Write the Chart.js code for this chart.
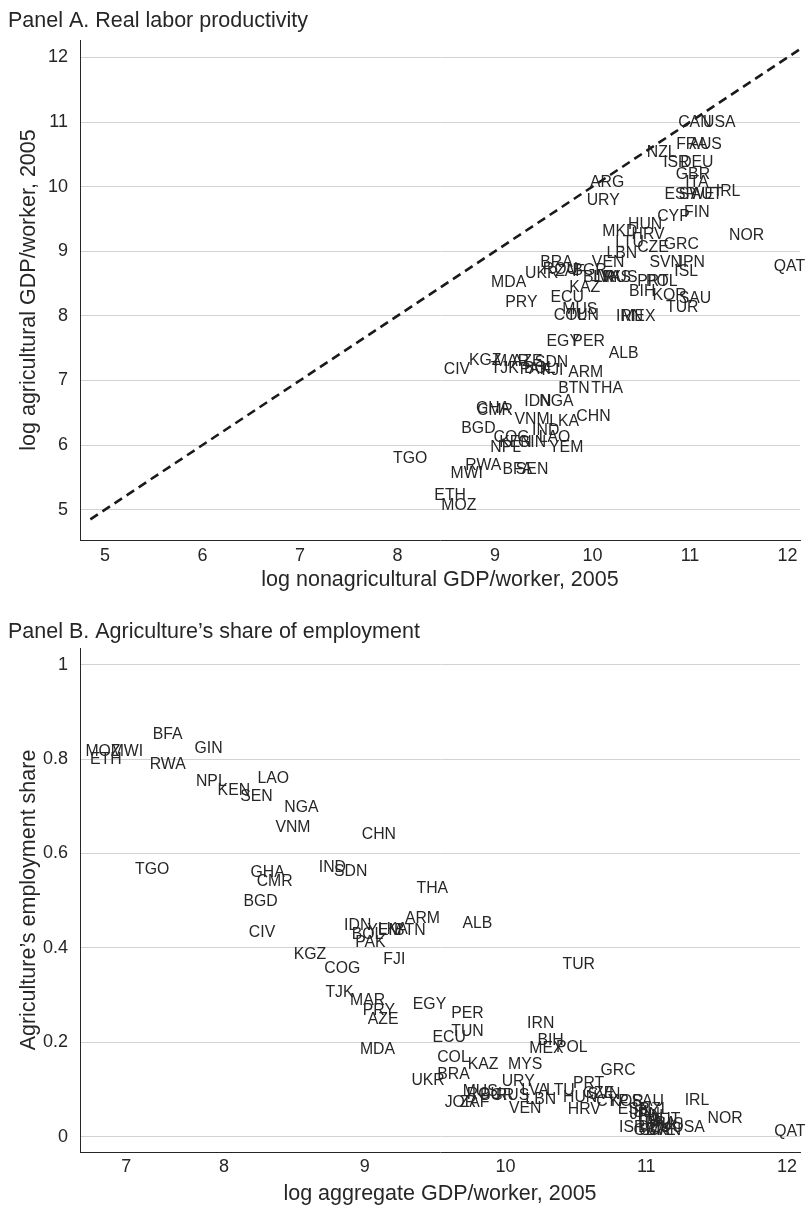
<!DOCTYPE html>
<html>
<head>
<meta charset="utf-8">
<script src="https://cdn.jsdelivr.net/npm/chart.js@4.4.0/dist/chart.umd.min.js"></script>
<style>
  html, body { margin: 0; padding: 0; background: #ffffff; }
  .panel { position: absolute; left: 0; width: 807px; }
  #wrapA { top: 0; height: 600px; }
  #wrapB { top: 600px; height: 607px; }
</style>
</head>
<body>
<div id="wrapA" class="panel"><canvas id="panelA"></canvas></div>
<div id="wrapB" class="panel"><canvas id="panelB"></canvas></div>
<script>
// ---- Panel A: log GDP per worker by sector, 2005 ----
const codesA = ['CAN','USA','FRA','AUS','NZL','ISR','DEU','GBR','ITA','ESP','SWE','AUT','IRL','FIN','CYP',
  'ARG','URY','HUN','MKD','HRV','LTU','CZE','GRC','NOR','LBN','VEN','SVN','JPN','ISL','QAT',
  'BRA','UKR','ROU','ZAF','BGR','BLR','LVA','MYS','RUS','PRT','POL','KAZ','MDA','BIH','KOR','SAU','TUR',
  'PRY','ECU','MUS','COL','TUN','IRN','MEX','EGY','PER','ALB','CIV','KGZ','TJK','MAR','AZE','SDN',
  'PAK','BOL','FJI','ARM','BTN','THA','IDN','NGA','GHA','CMR','VNM','LKA','CHN','BGD','IND','COG',
  'LAO','NPL','KEN','GIN','YEM','RWA','MWI','BFA','SEN','ETH','MOZ','TGO'];
const nonagA = [11.05,11.30,11.02,11.16,10.71,10.86,11.07,11.03,11.07,10.90,11.07,11.17,11.39,11.07,10.83,
  10.15,10.11,10.54,10.28,10.57,10.38,10.62,10.91,11.58,10.30,10.16,10.75,11.00,10.96,12.02,
  9.63,9.48,9.67,9.77,9.97,10.06,10.15,10.22,10.29,10.62,10.71,9.92,9.14,10.51,10.79,11.05,10.92,
  9.27,9.74,9.87,9.77,9.90,10.38,10.47,9.70,9.96,10.32,8.61,8.90,9.10,9.17,9.33,9.58,
  9.41,9.46,9.59,9.93,9.81,10.15,9.44,9.63,8.98,9.00,9.38,9.71,10.01,8.83,9.52,9.17,
  9.61,9.11,9.21,9.38,9.73,8.88,8.71,9.23,9.38,8.54,8.63,8.13];
const agA = [10.99,10.99,10.65,10.65,10.52,10.37,10.37,10.18,10.06,9.87,9.87,9.87,9.92,9.59,9.53,
  10.06,9.78,9.41,9.31,9.26,9.14,9.05,9.10,9.24,8.97,8.83,8.82,8.82,8.68,8.76,
  8.82,8.66,8.71,8.68,8.70,8.59,8.59,8.59,8.59,8.53,8.53,8.43,8.51,8.37,8.31,8.26,8.12,
  8.20,8.28,8.09,8.01,8.01,7.98,7.98,7.60,7.60,7.41,7.16,7.30,7.19,7.29,7.29,7.27,
  7.16,7.18,7.15,7.12,6.88,6.87,6.67,6.67,6.57,6.54,6.39,6.36,6.44,6.26,6.22,6.11,
  6.11,5.96,6.04,6.04,5.96,5.68,5.56,5.62,5.62,5.21,5.06,5.79];
const ticksA = [5, 6, 7, 8, 9, 10, 11, 12];
// ends of the 45-degree reference line
const diagonalA = [4.85, 12.15];

// ---- Panel B: agriculture's share of employment ----
const codesB = ['MOZ','ETH','MWI','BFA','GIN','RWA','NPL','KEN','SEN','LAO','NGA','VNM','CHN','TGO',
  'GHA','CMR','BGD','IND','SDN','THA','ARM','ALB','IDN','BOL','PAK','YEM','LKA','BTN','CIV','KGZ',
  'FJI','COG','TUR','TJK','MAR','PRY','AZE','EGY','PER','TUN','ECU','IRN','MDA','BIH','MEX','POL',
  'MYS','GRC','COL','KAZ','UKR','BRA','URY','PRT','MUS','JOR','ZAF','ROU','BGR','RUS','LVA','LTU',
  'LBN','VEN','HUN','SVN','CZE','HRV','CYP','KOR','SAU','ESP','IRL','NOR','USA','ISR','QAT',
  'FIN','NZL','ITA','DEU','GBR','FRA','SWE','AUT','AUS','CAN','JPN','ISL'];
const aggB = [7.14,7.16,7.31,7.60,7.89,7.60,7.91,8.07,8.23,8.35,8.55,8.49,9.10,7.49,
  8.31,8.36,8.26,8.77,8.90,9.48,9.41,9.80,8.95,9.02,9.04,9.14,9.20,9.32,8.27,8.61,
  9.21,8.84,10.52,8.82,9.02,9.10,9.13,9.46,9.73,9.73,9.60,10.25,9.09,10.32,10.29,10.47,
  10.14,10.80,9.63,9.84,9.45,9.63,10.09,10.59,9.82,9.68,9.78,9.85,9.94,10.05,10.21,10.39,
  10.25,10.14,10.53,10.70,10.66,10.56,10.76,10.86,11.01,10.91,11.36,11.56,11.30,10.90,12.02,
  11.03,11.06,11.03,11.06,11.03,11.10,11.08,11.13,11.15,11.13,10.99,10.96];
const shareB = [0.815,0.798,0.815,0.851,0.821,0.787,0.751,0.732,0.720,0.758,0.698,0.654,0.639,0.565,
  0.559,0.540,0.499,0.569,0.561,0.525,0.461,0.451,0.447,0.428,0.411,0.436,0.438,0.436,0.432,0.385,
  0.375,0.356,0.364,0.305,0.288,0.267,0.248,0.281,0.260,0.222,0.210,0.239,0.184,0.203,0.186,0.188,
  0.152,0.140,0.167,0.152,0.119,0.131,0.116,0.112,0.095,0.072,0.072,0.089,0.087,0.087,0.097,0.097,
  0.078,0.059,0.083,0.089,0.091,0.057,0.074,0.074,0.074,0.057,0.076,0.038,0.019,0.019,0.011,
  0.042,0.057,0.032,0.019,0.013,0.028,0.013,0.036,0.025,0.013,0.047,0.051];
const xTicksB = [7, 8, 9, 10, 11, 12];
const yTicksB = [0, 0.2, 0.4, 0.6, 0.8, 1];
// horizontal nudge (px) of each bottom tick label; the first one sits clear of the axis corner
const xTickNudgeB = [43, 0, 0, 0, 0, 0];

const FONT = "'Liberation Sans', Arial, Helvetica, sans-serif";
const INK = '#262626';
const GRID = '#d2d2d2';
const TICK_SIZE = 18;
const TITLE_SIZE = 21.5;
const CODE_SIZE = 15.8;

// draws each country code centred on its data point
const codeLabels = {
  id: 'codeLabels',
  afterDatasetsDraw(chart) {
    const ctx = chart.ctx;
    const area = chart.chartArea;
    chart.data.datasets.forEach((ds, i) => {
      if (!ds.codes) return;
      const meta = chart.getDatasetMeta(i);
      ctx.save();
      ctx.beginPath();
      ctx.rect(area.left, area.top - 20, area.right - area.left + 10, area.bottom - area.top + 20);
      ctx.clip();
      ctx.font = CODE_SIZE + 'px ' + FONT;
      ctx.fillStyle = INK;
      ctx.textAlign = 'center';
      ctx.textBaseline = 'middle';
      meta.data.forEach((pt, j) => ctx.fillText(ds.codes[j], pt.x, pt.y));
      ctx.restore();
    });
  }
};

// bottom tick labels of panel B, placed from the x scale with a per-label nudge
const nudgedXTicks = {
  id: 'nudgedXTicks',
  afterDraw(chart) {
    const scale = chart.scales.x;
    const ctx = chart.ctx;
    ctx.save();
    ctx.font = TICK_SIZE + 'px ' + FONT;
    ctx.fillStyle = INK;
    ctx.textAlign = 'center';
    ctx.textBaseline = 'middle';
    xTicksB.forEach((v, i) => {
      ctx.fillText(String(v), scale.getPixelForValue(v) + xTickNudgeB[i], scale.top + 15);
    });
    ctx.restore();
  }
};

function points(xs, ys) { return xs.map((x, i) => ({ x: x, y: ys[i] })); }
function fixedTicks(list) { return s => { s.ticks = list.map(v => ({ value: v })); }; }

function axisX(min, max, tickList, title, height, titleBottom, showTicks) {
  return {
    type: 'linear', min: min, max: max,
    afterBuildTicks: fixedTicks(tickList),
    afterFit: s => { s.height = height; },
    grid: { display: false, drawTicks: false },
    border: { display: true, color: INK, width: 1 },
    ticks: { display: showTicks, color: INK, font: { family: FONT, size: TICK_SIZE }, padding: 5,
             maxRotation: 0, autoSkip: false },
    title: { display: true, text: title, color: INK, font: { family: FONT, size: TITLE_SIZE },
             padding: { top: 0, bottom: titleBottom } }
  };
}
function axisY(min, max, tickList, title, width) {
  return {
    type: 'linear', min: min, max: max,
    afterBuildTicks: fixedTicks(tickList),
    afterFit: s => { s.width = width; },
    grid: { color: GRID, lineWidth: 1, drawTicks: false },
    border: { display: true, color: INK, width: 1 },
    ticks: { color: INK, font: { family: FONT, size: TICK_SIZE }, padding: 12,
             callback: v => String(Math.round(v * 10) / 10) },
    title: { display: true, text: title, color: INK, font: { family: FONT, size: TITLE_SIZE },
             padding: { top: 8, bottom: 0 } }
  };
}
function panelTitle(text, top, bottom) {
  return { display: true, text: text, align: 'start', color: INK,
           font: { family: FONT, size: TITLE_SIZE, weight: 'normal' }, padding: { top: top, bottom: bottom } };
}

Chart.defaults.animation = false;

new Chart(document.getElementById('panelA'), {
  type: 'scatter',
  data: {
    datasets: [
      { codes: codesA, data: points(nonagA, agA), pointRadius: 0, pointHoverRadius: 0 },
      { type: 'line', data: points(diagonalA, diagonalA), borderColor: '#1a1a1a', borderWidth: 2.6,
        borderDash: [9, 5.5], pointRadius: 0, fill: false }
    ]
  },
  options: {
    responsive: true, maintainAspectRatio: false, events: [],
    layout: { padding: { left: 8, right: 7, top: 0, bottom: 0 } },
    plugins: { legend: { display: false }, tooltip: { enabled: false },
               title: panelTitle('Panel A. Real labor productivity', 8, 6.2) },
    scales: {
      x: axisX(4.744, 12.128, ticksA, 'log nonagricultural GDP/worker, 2005', 60, 7, true),
      y: axisY(4.53, 12.27, ticksA, 'log agricultural GDP/worker, 2005', 72)
    }
  },
  plugins: [codeLabels]
});

new Chart(document.getElementById('panelB'), {
  type: 'scatter',
  data: {
    datasets: [
      { codes: codesB, data: points(aggB, shareB), pointRadius: 0, pointHoverRadius: 0 }
    ]
  },
  options: {
    responsive: true, maintainAspectRatio: false, events: [],
    layout: { padding: { left: 8, right: 7, top: 0, bottom: 0 } },
    plugins: { legend: { display: false }, tooltip: { enabled: false },
               title: panelTitle("Panel B. Agriculture\u2019s share of employment", 19.1, 3.1) },
    scales: {
      x: axisX(6.977, 12.092, xTicksB, 'log aggregate GDP/worker, 2005', 55, 0, false),
      y: axisY(-0.032, 1.035, yTicksB, "Agriculture\u2019s employment share", 72)
    }
  },
  plugins: [codeLabels, nudgedXTicks]
});
</script>
</body>
</html>
